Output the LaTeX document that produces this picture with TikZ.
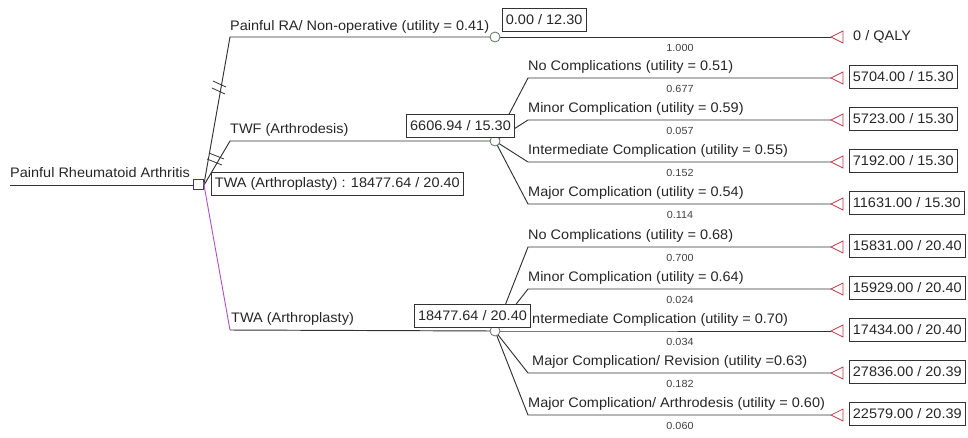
\documentclass[tikz,border=0pt]{standalone}
\usepackage{fontspec}
\setmainfont{Liberation Sans}[FakeStretch=1.05]
\definecolor{ln}{HTML}{333333}
\definecolor{purp}{HTML}{B050C8}
\definecolor{decblue}{HTML}{3535A0}
\definecolor{chg}{HTML}{607560}
\definecolor{termred}{HTML}{C03848}
\begin{document}
\begin{tikzpicture}[x=1pt,y=-1pt,
  every node/.style={text=black!85},
  lbl/.style={font=\fontsize{13.8}{15}\selectfont, inner sep=0pt, anchor=base west},
  prob/.style={font=\fontsize{10.3}{12}\selectfont, inner sep=0pt, text=black!75},
  valbox/.style={draw=ln, font=\fontsize{13.8}{15}\selectfont, inner xsep=3.5pt, inner ysep=0pt, minimum height=23pt, fill=white, line width=0.8pt},
  br/.style={draw=ln, line width=0.95pt},
  chance/.style={circle, draw=chg, fill=white, minimum size=10pt, inner sep=0pt, line width=0.8pt},
  decision/.style={rectangle, draw=decblue, fill=white, minimum size=10pt, inner sep=0pt, line width=0.9pt},
  term/.style={draw=termred, line width=0.7pt, fill=white}
]
\path[use as bounding box] (0,0) rectangle (968,437);

% root
\coordinate (root) at (10,185);
\node[decision] (dec) at (198,184) {};
\node[lbl] (rootlbl) at (10,177) {Painful Rheumatoid Arthritis};

% first-level bend points
\coordinate (bA) at (230,37);
\coordinate (bF) at (230,141);
\coordinate (bW) at (230,330);

% chance nodes
\coordinate (cAc) at (495,37);
\coordinate (cFc) at (495,141);
\coordinate (cWc) at (495,331);

% branches from decision
\draw[br] (root) -- (dec.west |- root);
\draw[br] ([yshift=-3pt]dec.east) -- (bA) -- (cAc);
\draw[br] ([yshift=-2pt]dec.east) -- (bF) -- (cFc);
\draw[draw=purp, line width=0.9pt] ([yshift=2pt]dec.east) -- (bW);
\draw[br] (bW) -- (cWc);

% slash marks
\draw[br, line width=0.8pt] (213,81) -- (226,87);
\draw[br, line width=0.8pt] (212,88) -- (225,94);
\draw[br, line width=0.8pt] (209,153) -- (224,159);
\draw[br, line width=0.8pt] (207,159) -- (222,165);

% first-level labels
\node[lbl] (lA) at (230,30) {Painful RA/ Non-operative (utility = 0.41)};
\node[lbl] (lF) at (230,133) {TWF (Arthrodesis)};
\node[lbl] (lW) at (231,322) {TWA (Arthroplasty)};
\node[valbox, anchor=west] (bestbox) at (211,184) {TWA (Arthroplasty) : 18477.64 / 20.40};

% ---- Non-operative terminal
\coordinate (tA) at (831,37);
\draw[br] (cAc) -- (tA);
\node[chance] (cA) at (cAc) {};
\node[valbox, anchor=west] (vA) at (502,20) {0.00 / 12.30};
\node[prob] (pA) at (680,48) {1.000};
\draw[term] (tA) -- ++(12,-6) -- ++(0,12) -- cycle;
\node[font=\fontsize{13.8}{15}\selectfont, anchor=west, inner sep=0pt] (qA) at (853,37) {0 / QALY};

% ---- TWF subtree
\foreach \y/\n/\lab/\p/\v in {
  78/1/{No Complications (utility = 0.51)}/0.677/{5704.00 / 15.30},
  120/2/{Minor Complication (utility = 0.59)}/0.057/{5723.00 / 15.30},
  162/3/{Intermediate Complication (utility = 0.55)}/0.152/{7192.00 / 15.30},
  204/4/{Major Complication (utility = 0.54)}/0.114/{11631.00 / 15.30}}{
  \coordinate (f\n) at (528,\y);
  \coordinate (tf\n) at (831,\y);
  \draw[br] (cFc) -- (f\n) -- (tf\n);
  \node[lbl] (lf\n) at (528,\y-8) {\lab};
  \node[prob] (pf\n) at (680,\y+11) {\p};
  \draw[term] (tf\n) -- ++(12,-6) -- ++(0,12) -- cycle;
  \node[valbox, anchor=west] (vf\n) at (849,\y-1.5) {\v};
}
\node[chance] (cF) at (cFc) {};
\node[valbox] (vF) at (460.5,126) {6606.94 / 15.30};

% ---- TWA subtree
\foreach \y/\n/\lab/\p/\v in {
  247/1/{No Complications (utility = 0.68)}/0.700/{15831.00 / 20.40},
  289/2/{Minor Complication (utility = 0.64)}/0.024/{15929.00 / 20.40},
  331/3/{Intermediate Complication (utility = 0.70)}/0.034/{17434.00 / 20.40},
  373/4/{\hspace*{4pt}Major Complication/ Revision (utility =0.63)}/0.182/{27836.00 / 20.39},
  415/5/{Major Complication/ Arthrodesis (utility = 0.60)}/0.060/{22579.00 / 20.39}}{
  \coordinate (w\n) at (528,\y);
  \coordinate (tw\n) at (831,\y);
  \draw[br] (cWc) -- (w\n) -- (tw\n);
  \node[lbl] (lw\n) at (528,\y-8) {\lab};
  \node[prob] (pw\n) at (680,\y+11) {\p};
  \draw[term] (tw\n) -- ++(12,-6) -- ++(0,12) -- cycle;
  \node[valbox, anchor=west] (vw\n) at (849,\y-1.5) {\v};
}
\node[chance] (cW) at (cWc) {};
\node[valbox] (vW) at (472.5,316) {18477.64 / 20.40};
\end{tikzpicture}
\end{document}
